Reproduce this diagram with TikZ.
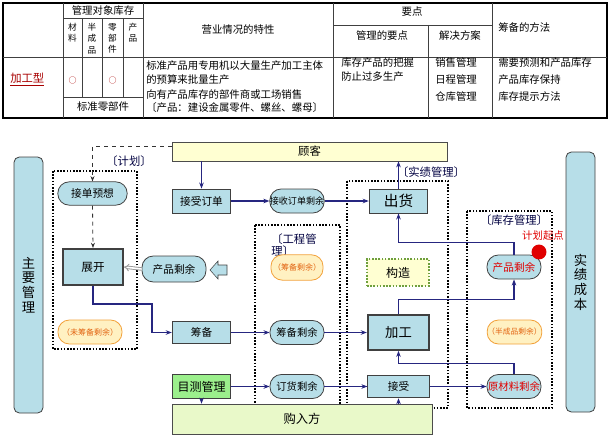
\documentclass[tikz,border=0pt]{standalone}
\usepackage{fontspec}
\setmainfont{Noto Sans CJK SC}
\usepackage{xcolor}
\usepackage{tikz}
\usetikzlibrary{arrows.meta,positioning,calc}
\definecolor{navy}{HTML}{262680}
\definecolor{boxc}{HTML}{B7DEE8}
\definecolor{edgec}{HTML}{404040}
\definecolor{orgl}{HTML}{F2A13A}
\definecolor{orgt}{HTML}{E2620F}
\definecolor{orgf}{HTML}{FFF1C2}
\definecolor{yelf}{HTML}{FFFFD2}
\definecolor{grnf}{HTML}{9BEF8C}
\definecolor{grnl}{HTML}{E9F9C9}
\definecolor{grnd}{HTML}{6E9F3C}
\definecolor{redc}{HTML}{E00000}
\definecolor{darkred}{HTML}{A80000}
\newcommand\fsz[1]{\fontsize{#1}{#1}\selectfont}
\tikzset{
  ar/.style={-{Stealth[length=1.6mm]},thick,navy},
  dar/.style={-{Stealth[length=1.4mm]},semithick,black!80,dashed},
  garr/.style={draw=gray!80,double=white,double distance=1.2pt,line width=0.7pt,-{Implies}},
  box/.style={draw=edgec,semithick,fill=boxc,inner sep=0pt,align=center,minimum width=44pt,minimum height=18pt,font=\fsz{8}},
  bigbox/.style={box,line width=1.5pt},
  pill/.style={box,rounded corners=8.5pt,minimum width=40.5pt},
  opill/.style={pill,draw=orgl,fill=orgf,text=orgt,font=\fsz{6}},
  vbox/.style={box,rounded corners=4pt,minimum width=21.75pt,font=\fontsize{10}{11}\selectfont},
  bar/.style={draw=gray!60!black,thin,inner sep=0pt},
  frm/.style={draw=black,line width=1.2pt,dash pattern=on 1.2pt off 1.2pt},
  lbl/.style={font=\fsz{8.5},text=black!75!blue,inner sep=0pt},
  tx/.style={font=\fsz{7.8},inner sep=0pt,anchor=west},
  sub/.style={font=\fontsize{6.5}{8.5}\selectfont,align=center,inner sep=0pt,anchor=north}
}
\begin{document}
\begin{tikzpicture}[x=0.75pt,y=-0.75pt]
\useasboundingbox (0,0) rectangle (610,435);

\draw[line width=1.2pt] (3,3) rectangle (607,118);
\draw[edgec,thin] (63,3) -- (63,118) (143,3) -- (143,118) (333,3) -- (333,118) (492,3) -- (492,118)
  (428,25) -- (428,118) (3,57) -- (607,57) (63,18) -- (143,18) (333,25) -- (492,25)
  (82,18) -- (82,97) (102,18) -- (102,97) (123,18) -- (123,97) (63,97) -- (143,97);
\node[tx,anchor=center] (hkc) at (103,11) {管理对象库存};
\node[sub] (hcl) at (72.5,23) {材\\料};
\node[sub] (hbc) at (92,23) {半\\成\\品};
\node[sub] (hlb) at (112.5,23) {零\\部\\件};
\node[sub] (hcp) at (133,23) {产\\品};
\node[tx,anchor=center] (hyy) at (238,30) {营业情况的特性};
\node[tx,anchor=center] (hyd) at (412,12) {要点};
\node[tx,anchor=center] (hgy) at (382,36) {管理的要点};
\node[tx,anchor=center] (hjj) at (460,36) {解决方案};
\node[tx] (hcb) at (498,28) {筹备的方法};
\node[tx,font=\fsz{8.5},text=darkred] (jgx) at (10,80) {\underline{加工型}};
\node[font=\fsz{6},text=darkred,inner sep=0pt] (o1) at (72.5,80) {○};
\node[font=\fsz{6},text=darkred,inner sep=0pt] (o2) at (112.5,80) {○};
\node[tx,anchor=center] (bzl) at (103,107) {标准零部件};
\node[tx] (t1) at (146,66) {标准产品用专用机以大量生产加工主体};
\node[tx] (t2) at (146,80) {的预算来批量生产};
\node[tx] (t3) at (146,95) {向有产品库存的部件商或工场销售};
\node[tx] (t4) at (146,108) {〔产品：建设金属零件、螺丝、螺母〕};
\node[tx] (g1) at (341,63) {库存产品的把握};
\node[tx] (g2) at (341,77) {防止过多生产};
\node[tx] (j1) at (435,63) {销售管理};
\node[tx] (j2) at (435,80) {日程管理};
\node[tx] (j3) at (435,97) {仓库管理};
\node[tx] (f1) at (498,63) {需要预测和产品库存};
\node[tx] (f2) at (498,80) {产品库存保持};
\node[tx] (f3) at (498,97) {库存提示方法};

\draw[frm] (53,171) rectangle (137,349);
\draw[frm] (347,181) rectangle (448,408);
\draw[frm] (255,225) rectangle (340,408);
\draw[frm] (467,211) rectangle (552,408);
\node[lbl] (lj) at (129,161) {〔计划〕};
\node[lbl] (lsj) at (431,172) {〔实绩管理〕};
\node[lbl,align=left,anchor=north west] (lgc) at (271,234) {〔工程管\\理〕};
\node[lbl] (lkc) at (514,220) {〔库存管理〕};
\node[font=\fsz{7.8},text=redc,inner sep=0pt] (qd) at (543,236) {计划起点};

\node[vbox,minimum height=192pt] (zy) at (28.5,285) {主\\要\\管\\理};
\node[vbox,minimum height=195pt] (sj) at (580.5,282) {实\\绩\\成\\本};
\node[bar,fill=yelf,minimum width=206pt,minimum height=14.3pt,font=\fsz{8.5}] (gk) at (309.5,151.5) {顾客};
\node[bar,fill=grnl,minimum width=195pt,minimum height=22.5pt,font=\fsz{9.2}] (grf) at (302,419) {购入方};

\node[pill,minimum width=52pt,minimum height=17.5pt] (jd) at (92.5,193.5) {接单预想};
\node[bigbox,minimum width=45pt,minimum height=27pt,font=\fsz{8.7}] (zk) at (93,267) {展开};
\node[pill,minimum width=48pt,minimum height=19.5pt] (cpl) at (174,269) {产品剩余};
\node[opill,minimum width=48pt] (wcb) at (90,332) {（未筹备剩余）};
\node[box,minimum height=17pt] (cb) at (201.5,332.5) {筹备};
\node[box,fill=grnf,font=\fsz{9}] (mc) at (201.5,386.5) {目测管理};
\node[box] (jsdd) at (201.5,201) {接受订单};
\node[pill,font=\fsz{6.8}] (jsdsy) at (297,201) {接收订单剩余};
\node[box,font=\fsz{11}] (ch) at (398.5,201) {出货};
\node[box,fill=yelf,draw=grnd,line width=1.2pt,dash pattern=on 1.2pt off 1.2pt,minimum width=46.5pt,minimum height=20pt,font=\fsz{9}] (gz) at (398,272.5) {构造};
\node[bigbox,minimum width=46pt,minimum height=26pt,font=\fsz{10}] (jg) at (398.5,332.5) {加工};
\node[box,minimum width=46pt,minimum height=17pt] (js) at (398.5,386.5) {接受};
\node[opill,minimum width=39pt,minimum height=19pt] (ocb) at (297,267.5) {（筹备剩余）};
\node[pill,font=\fsz{7.7}] (cbsy) at (297,332.5) {筹备剩余};
\node[pill,font=\fsz{7.7}] (dhsy) at (297,386.5) {订货剩余};
\node[pill,text=redc] (cpr) at (514,267) {产品剩余};
\node[opill,minimum width=41pt,font=\fsz{5.8}] (bcp) at (514.5,332) {（半成品剩余）};
\node[pill,text=redc,font=\fsz{7.8}] (ycl) at (514,386.5) {原材料剩余};
\fill[redc] (539,252) circle[radius=5.6pt];
\draw[edgec,fill=boxc,thin] (210,270) -- (218,261) -- (218,265) -- (227,265) -- (227,275) -- (218,275) -- (218,279) -- cycle;

\draw[dar] ([yshift=4pt]gk.west) -| (jd.north);
\draw[dar] (jd.south) -- (zk.north);
\draw[garr] (cpl.west) -- (zk.east);
\draw[ar] (zk.south) |- (152,304) |- (cb.west);
\draw[ar] (jsdd.north |- gk.south) -- (jsdd.north);
\draw[ar] (jsdd.east) -- (jsdsy.west);
\draw[ar] (jsdsy.east) -- (ch.west);
\draw[ar] (ch.north) -- (ch.north |- gk.south);
\draw[ar] (cb.east) -- (cbsy.west);
\draw[ar] (cbsy.east) -- (jg.west);
\draw[ar] (mc.east) -- (dhsy.west);
\draw[ar] (dhsy.east) -- (js.west);
\draw[ar] (mc.south) -- (mc.south |- grf.north);
\draw[ar] (js.south |- grf.north) -- (js.south);
\draw[ar] (js.east) -- (ycl.west);
\draw[ar] (ycl.north) -- ++(0,-11) -| (jg.south);
\draw[ar] (jg.north) -- ++(0,-15) -| (cpr.south);
\draw[ar] (cpr.north) -- ++(0,-12) -| (ch.south);
\end{tikzpicture}
\end{document}
